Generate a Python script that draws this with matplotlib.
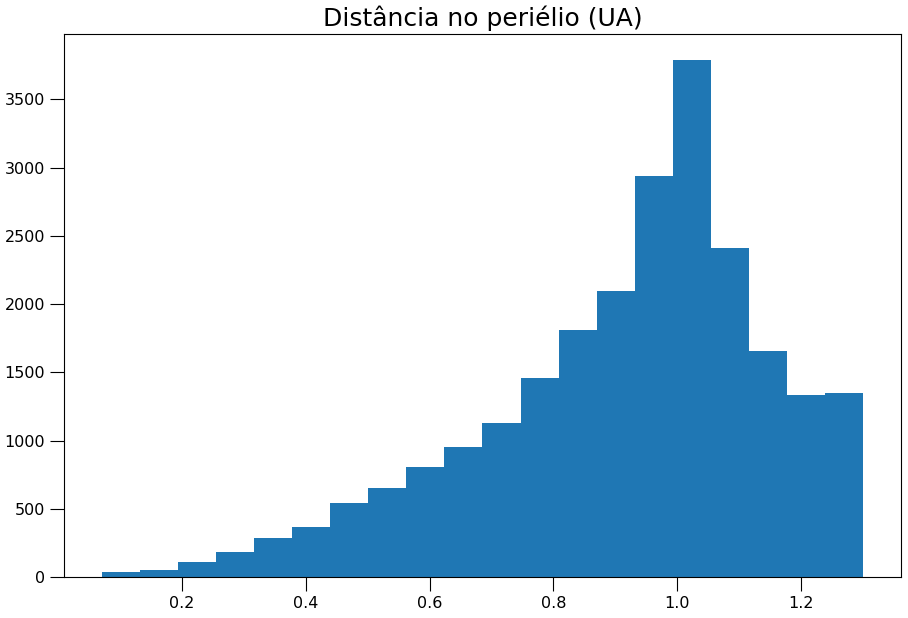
import numpy as np
import matplotlib.pyplot as plt

# histogram counts (20 bins)
q_min = 0.071
q_max = 1.300
counts = [40, 50, 110, 185, 285, 365, 540, 650, 805, 950,
          1130, 1460, 1810, 2095, 2940, 3790, 2410, 1655, 1335, 1350]

edges = np.linspace(q_min, q_max, len(counts) + 1)
centers = (edges[:-1] + edges[1:]) / 2

fig = plt.figure(figsize=(9.08, 6.18), dpi=100)
ax = fig.add_axes([64 / 908, 1 - 577 / 618, (901 - 64) / 908, (577 - 34) / 618])
ax.hist(centers, bins=edges, weights=counts, color='#1f77b4')
ax.set_title('Distância no periélio (UA)', fontsize=18)
ax.tick_params(labelsize=11.5, length=10, width=0.8)
ax.set_xticks([0.2, 0.4, 0.6, 0.8, 1.0, 1.2])
ax.set_yticks(range(0, 4000, 500))
for s in ax.spines.values():
    s.set_linewidth(0.8)
fig.savefig('out.png', dpi=100)
